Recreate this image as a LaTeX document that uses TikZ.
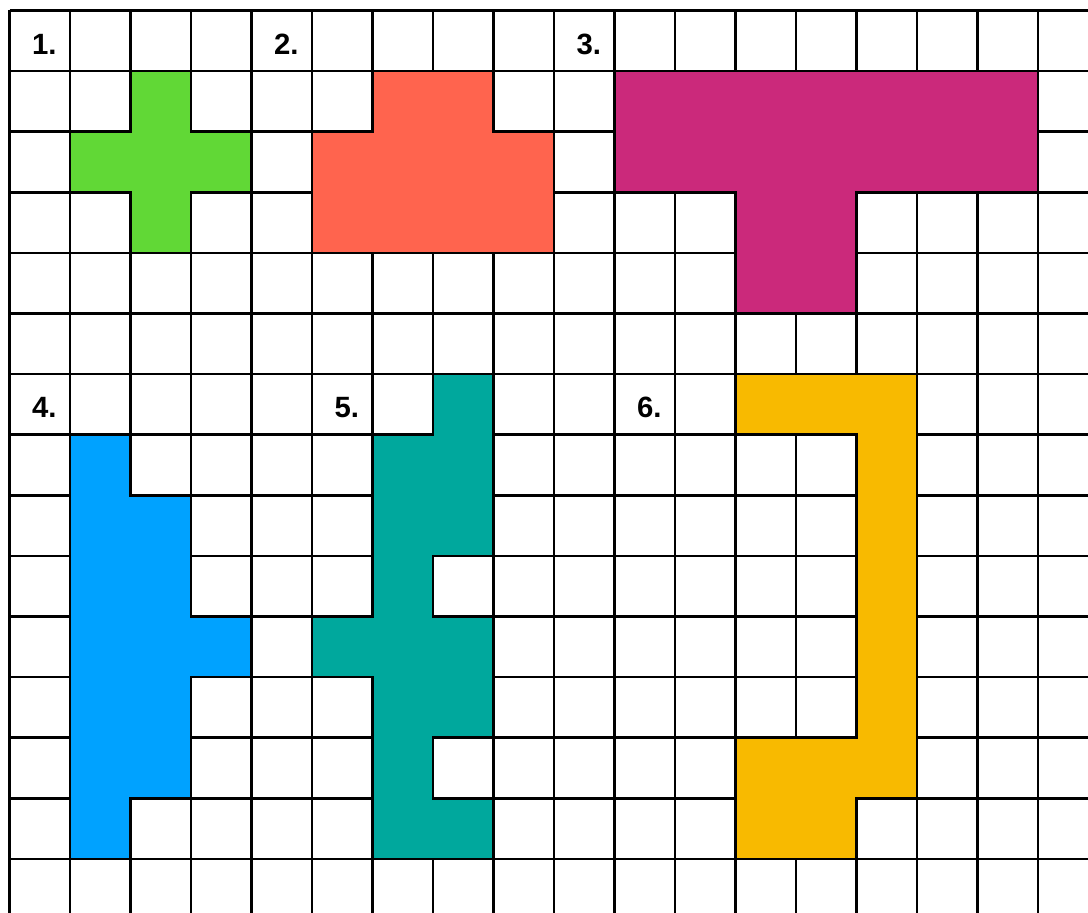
\documentclass[tikz,border=0pt]{standalone}
\usepackage{fontspec}
\setmainfont{Liberation Sans}
\definecolor{cgreen}{HTML}{61D836}
\definecolor{corange}{HTML}{FF644E}
\definecolor{cmagenta}{HTML}{CB297B}
\definecolor{cblue}{HTML}{00A2FF}
\definecolor{cteal}{HTML}{00A89D}
\definecolor{cyellow}{HTML}{F8BA00}
\tikzset{
  gridline/.style={line width=1.85pt, black},
  piece/.style={draw=black, line width=1.85pt, line join=miter},
  lbl/.style={font=\fontsize{22}{26}\selectfont\bfseries, inner sep=0pt, xshift=3.4pt, yshift=-2.6pt}
}
\begin{document}
\begin{tikzpicture}[x=0.75pt,y=-0.75pt]
\useasboundingbox (0,0) rectangle (1088,913);
\fill[white] (0,0) rectangle (1088,913);
\clip (0,0) rectangle (1088,913);
\begin{scope}[shift={(9.5,10.5)}, x=45.375pt, y=-45.45pt]
  % grid
  \foreach \c in {0,...,18} { \draw[gridline] (\c,0) -- (\c,15.2); }
  \foreach \r in {0,...,15} { \draw[gridline] (0,\r) -- (18.2,\r); }
  % shapes
  \filldraw[piece, fill=cgreen] (2,1) -- (3,1) -- (3,2) -- (4,2) -- (4,3) -- (3,3) -- (3,4) -- (2,4) -- (2,3) -- (1,3) -- (1,2) -- (2,2) -- cycle;
  \filldraw[piece, fill=corange] (6,1) -- (8,1) -- (8,2) -- (9,2) -- (9,4) -- (5,4) -- (5,2) -- (6,2) -- cycle;
  \filldraw[piece, fill=cmagenta] (10,1) -- (17,1) -- (17,3) -- (14,3) -- (14,5) -- (12,5) -- (12,3) -- (10,3) -- cycle;
  \filldraw[piece, fill=cblue] (1,7) -- (2,7) -- (2,8) -- (3,8) -- (3,10) -- (4,10) -- (4,11) -- (3,11) -- (3,13) -- (2,13) -- (2,14) -- (1,14) -- cycle;
  \filldraw[piece, fill=cteal] (7,6) -- (8,6) -- (8,9) -- (7,9) -- (7,10) -- (8,10) -- (8,12) -- (7,12) -- (7,13) -- (8,13) -- (8,14) -- (6,14) -- (6,11) -- (5,11) -- (5,10) -- (6,10) -- (6,7) -- (7,7) -- cycle;
  \filldraw[piece, fill=cyellow] (12,6) -- (15,6) -- (15,13) -- (14,13) -- (14,14) -- (12,14) -- (12,12) -- (14,12) -- (14,7) -- (12,7) -- cycle;
  % labels
  \node[lbl] (l1) at (0.5,0.5) {1.};
  \node[lbl] (l2) at (4.5,0.5) {2.};
  \node[lbl] (l3) at (9.5,0.5) {3.};
  \node[lbl] (l4) at (0.5,6.5) {4.};
  \node[lbl] (l5) at (5.5,6.5) {5.};
  \node[lbl] (l6) at (10.5,6.5) {6.};
\end{scope}
\end{tikzpicture}
\end{document}
